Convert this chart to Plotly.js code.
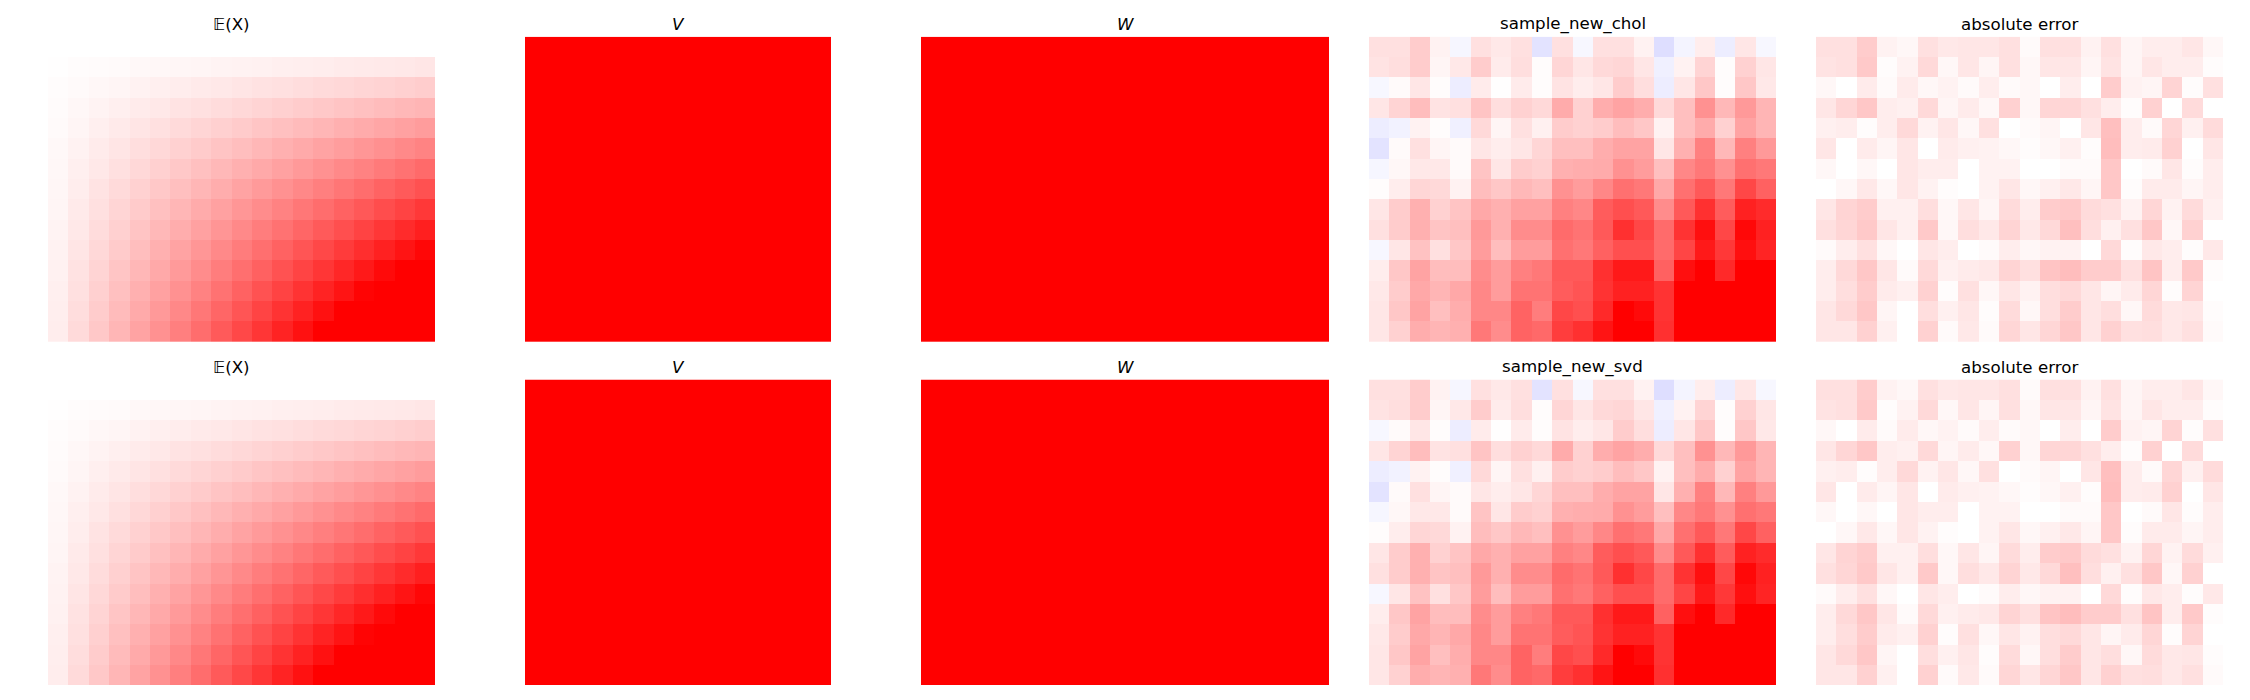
<!DOCTYPE html>
<html>
<head>
<meta charset="utf-8">
<script src="https://cdn.plot.ly/plotly-3.0.1.min.js"></script>
<style>html,body{margin:0;padding:0;background:#fff;}</style>
</head>
<body>
<div id="chart" style="width:2250px;height:700px;"></div>
<script>
// ---- data (values in units of the colour limit: -1 = blue, 0 = white, 1 = red) ----
const expectedX = [
 [0,0,0,0,0,0,0,0,0,0,0,0,0,0,0,0,0,0,0,0],
 [0,.005,.010,.015,.021,.026,.031,.036,.041,.046,.051,.056,.062,.067,.072,.077,.082,.087,.092,.097],
 [0,.010,.021,.031,.041,.051,.062,.072,.082,.092,.103,.113,.123,.133,.144,.154,.164,.174,.185,.195],
 [0,.015,.031,.046,.062,.077,.092,.108,.123,.138,.154,.169,.185,.200,.215,.231,.246,.262,.277,.292],
 [0,.021,.041,.062,.082,.103,.123,.144,.164,.185,.205,.226,.246,.267,.287,.308,.328,.349,.369,.390],
 [0,.026,.051,.077,.103,.128,.154,.179,.205,.231,.256,.282,.308,.333,.359,.385,.410,.436,.462,.487],
 [0,.031,.062,.092,.123,.154,.185,.215,.246,.277,.308,.338,.369,.400,.431,.462,.492,.523,.554,.585],
 [0,.036,.072,.108,.144,.179,.215,.251,.287,.323,.359,.395,.431,.467,.503,.538,.574,.610,.646,.682],
 [0,.041,.082,.123,.164,.205,.246,.287,.328,.369,.410,.451,.492,.533,.574,.615,.656,.697,.738,.779],
 [0,.046,.092,.138,.185,.231,.277,.323,.369,.415,.462,.508,.554,.600,.646,.692,.738,.785,.831,.877],
 [0,.051,.103,.154,.205,.256,.308,.359,.410,.462,.513,.564,.615,.667,.718,.769,.821,.872,.923,.974],
 [0,.056,.113,.169,.226,.282,.338,.395,.451,.508,.564,.621,.677,.733,.790,.846,.903,.959,1.015,1.072],
 [0,.062,.123,.185,.246,.308,.369,.431,.492,.554,.615,.677,.738,.800,.862,.923,.985,1.046,1.108,1.169],
 [0,.067,.133,.200,.267,.333,.400,.467,.533,.600,.667,.733,.800,.867,.933,1.000,1.067,1.133,1.200,1.267],
 [0,.072,.144,.215,.287,.359,.431,.503,.574,.646,.718,.790,.862,.933,1.005,1.077,1.149,1.221,1.292,1.364]
];

const vRow = [1,1,1,1,1,1,1,1,1,1,1,1,1,1,1];
const matrixV = [vRow,vRow,vRow,vRow,vRow,vRow,vRow,vRow,vRow,vRow,vRow,vRow,vRow,vRow,vRow];
const wRow = [1,1,1,1,1,1,1,1,1,1,1,1,1,1,1,1,1,1,1,1];
const matrixW = [wRow,wRow,wRow,wRow,wRow,wRow,wRow,wRow,wRow,wRow,wRow,wRow,wRow,wRow,wRow];

const sampleChol = [
 [0.12,0.12,0.20,0.05,-0.035,0.12,0.09,0.12,-0.11,0.12,-0.03,0.12,0.12,0.05,-0.13,-0.045,0.07,-0.07,0.10,-0.03],
 [0.11,0.13,0.20,0.04,0.09,0.20,0.08,0.13,0.01,0.16,0.10,0.15,0.16,0.10,-0.06,0.05,0.17,0.01,0.18,0.10],
 [-0.03,0.02,0.10,0.01,-0.07,0.08,0.005,0.08,0.01,0.11,0.07,0.10,0.20,0.13,-0.07,0.10,0.22,0.01,0.22,0.09],
 [0.10,0.17,0.26,0.11,0.12,0.23,0.13,0.18,0.15,0.33,0.18,0.32,0.36,0.32,0.15,0.25,0.43,0.28,0.40,0.29],
 [-0.07,-0.05,0.05,0.01,-0.06,0.15,0.04,0.12,0.06,0.20,0.18,0.20,0.26,0.22,0.05,0.25,0.33,0.18,0.36,0.29],
 [-0.11,0.02,0.12,0.04,0.02,0.10,0.07,0.10,0.16,0.25,0.25,0.32,0.36,0.36,0.10,0.31,0.50,0.28,0.50,0.40],
 [-0.035,0.03,0.09,0.09,0.02,0.23,0.10,0.20,0.18,0.31,0.32,0.33,0.43,0.39,0.25,0.47,0.53,0.43,0.56,0.53],
 [0.01,0.07,0.16,0.15,0.05,0.26,0.22,0.28,0.25,0.43,0.39,0.47,0.56,0.53,0.34,0.56,0.65,0.53,0.72,0.62],
 [0.10,0.20,0.31,0.18,0.23,0.34,0.31,0.37,0.37,0.50,0.47,0.64,0.69,0.65,0.45,0.65,0.81,0.64,0.87,0.83],
 [0.12,0.20,0.31,0.23,0.25,0.40,0.31,0.45,0.45,0.58,0.55,0.65,0.81,0.72,0.58,0.80,0.94,0.72,0.97,0.87],
 [-0.03,0.10,0.24,0.12,0.22,0.39,0.26,0.39,0.39,0.56,0.53,0.62,0.69,0.69,0.58,0.73,0.90,0.78,0.94,0.86],
 [0.07,0.22,0.36,0.26,0.26,0.45,0.39,0.50,0.53,0.65,0.65,0.81,0.90,0.90,0.62,0.94,1.13,0.84,1.22,1.07],
 [0.09,0.20,0.34,0.29,0.34,0.47,0.39,0.55,0.55,0.64,0.67,0.80,0.87,0.87,0.80,1.00,1.14,1.05,1.27,1.17],
 [0.10,0.22,0.36,0.25,0.32,0.47,0.47,0.61,0.51,0.72,0.69,0.84,1.00,0.96,0.80,1.03,1.20,1.22,1.30,1.27],
 [0.10,0.18,0.32,0.29,0.31,0.53,0.45,0.61,0.59,0.76,0.81,0.92,1.08,1.03,0.81,1.20,1.28,1.30,1.41,1.36]
];

const errorChol = [
 [.12,.12,.20,.05,.03,.12,.09,.10,.10,.12,.02,.12,.12,.05,.12,.04,.07,.07,.10,.03],
 [.11,.12,.21,.01,.05,.15,.03,.10,.04,.12,.03,.10,.10,.04,.11,.04,.10,.07,.07,.01],
 [.03,0,.08,.02,.08,.03,.05,.02,.07,.02,.03,0,.07,0,.20,.05,.04,.17,.01,.12],
 [.10,.16,.22,.07,.06,.15,.04,.08,.03,.18,.03,.16,.16,.12,.07,.01,.18,0,.14,0],
 [.06,.07,.01,.07,.15,.05,.10,.03,.12,0,.02,.04,0,.10,.25,.07,.02,.16,.06,.14],
 [.10,0,.08,.04,.10,0,.08,.06,.05,.03,.01,.03,.06,.01,.26,.07,.08,.18,0,.10],
 [.03,0,.03,0,.10,.07,.07,0,.05,.05,0,0,.02,.02,.22,0,.02,.10,.01,.07],
 [0,.03,.09,.03,.10,.05,.01,0,.05,.10,.03,.06,.09,.04,.22,.01,.08,.08,.04,.07],
 [.10,.17,.20,.06,.06,.13,.03,.10,.04,.14,.07,.20,.21,.14,.12,.05,.16,.05,.14,.06],
 [.12,.16,.21,.10,.06,.21,.03,.13,.09,.17,.09,.15,.25,.13,.06,.12,.22,.03,.18,0],
 [.02,.07,.12,.03,0,.10,.07,0,.02,.07,.03,.05,.05,0,.15,.01,.09,.07,.01,.09],
 [.07,.15,.22,.10,.02,.15,.06,.08,.09,.17,.12,.23,.26,.20,.20,.12,.23,.07,.21,.01],
 [.07,.13,.20,.08,.06,.18,.01,.12,.03,.10,.05,.13,.15,.10,.04,.08,.16,.01,.17,0],
 [.10,.15,.22,.04,0,.13,.06,.10,.01,.14,.03,.13,.20,.10,.13,.03,.14,.09,.10,.01],
 [.10,.10,.18,.06,0,.18,.02,.09,.02,.16,.10,.16,.22,.10,.18,.12,.13,.09,.12,.02]
];

// the SVD sampler draws the same matrix as the Cholesky one in the reference
const sampleSvd = sampleChol;
const errorSvd = errorChol;

const rowTitles = [
  ["\uD835\uDD3C(X)", "<i>V</i>", "<i>W</i>", "sample_new_chol", "absolute error"],
  ["\uD835\uDD3C(X)", "<i>V</i>", "<i>W</i>", "sample_new_svd", "absolute error"]
];
const rowData = [
  [expectedX, matrixV, matrixW, sampleChol, errorChol],
  [expectedX, matrixV, matrixW, sampleSvd, errorSvd]
];

// ---- layout geometry (pixels) ----
const W = 2250, H = 700;
const colPx = [[27.5,435],[525,831],[921,1329],[1369,1776],[1816,2223]];
const rowPx = [[36.7,342],[379.5,685]];
const bwr = [[0,'rgb(0,0,255)'],[0.5,'rgb(255,255,255)'],[1,'rgb(255,0,0)']];

const traces = [];
const layout = {
  width: W, height: H,
  margin: {l:0, r:0, t:0, b:0},
  paper_bgcolor: '#ffffff', plot_bgcolor: '#ffffff',
  showlegend: false,
  annotations: []
};

let n = 0;
for (let r = 0; r < 2; r++) {
  for (let c = 0; c < 5; c++) {
    n++;
    const xa = n === 1 ? 'x' : 'x' + n;
    const ya = n === 1 ? 'y' : 'y' + n;
    traces.push({
      type: 'heatmap',
      z: rowData[r][c],
      xaxis: xa, yaxis: ya,
      colorscale: bwr, zmin: -1, zmax: 1,
      showscale: false, hoverinfo: 'skip'
    });
    const xk = n === 1 ? 'xaxis' : 'xaxis' + n;
    const yk = n === 1 ? 'yaxis' : 'yaxis' + n;
    layout[xk] = {domain: [colPx[c][0]/W, colPx[c][1]/W], visible: false, anchor: ya,
                  showgrid: false, zeroline: false, fixedrange: true};
    layout[yk] = {domain: [1 - rowPx[r][1]/H, 1 - rowPx[r][0]/H], visible: false, anchor: xa,
                  autorange: 'reversed', showgrid: false, zeroline: false, fixedrange: true};
    layout.annotations.push({
      text: rowTitles[r][c],
      xref: 'paper', yref: 'paper',
      x: (colPx[c][0] + colPx[c][1]) / 2 / W,
      y: 1 - (rowPx[r][0] - 0.5) / H,
      xanchor: 'center', yanchor: 'bottom',
      showarrow: false,
      font: {family: 'DejaVu Sans', size: 16.67, color: '#000000'}
    });
  }
}

Plotly.newPlot('chart', traces, layout, {staticPlot: true, displayModeBar: false});
</script>
</body>
</html>
